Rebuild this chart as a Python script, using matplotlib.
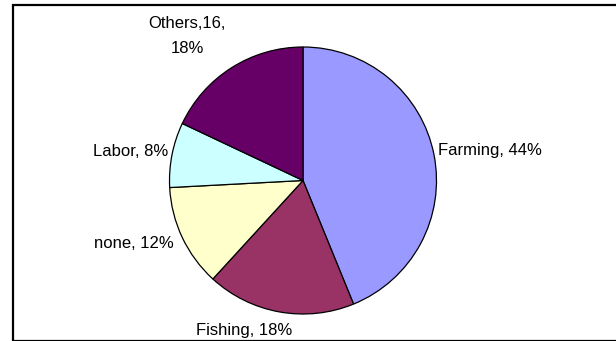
import matplotlib
matplotlib.use("Agg")
import matplotlib.pyplot as plt
from matplotlib.patches import Rectangle

# Occupation counts of respondents
categories = ["Farming", "Fishing", "none", "Labor", "Others"]
counts = [39, 16, 11, 7, 16]
percent_labels = ["44%", "18%", "12%", "8%", "18%"]
colors = ["#9999FF", "#993366", "#FFFFCC", "#CCFFFF", "#660066"]

plt.rcParams["font.family"] = ["Liberation Sans", "DejaVu Sans"]

W, H = 616, 341
fig = plt.figure(figsize=(W / 100, H / 100), dpi=100)
ax = fig.add_axes([0, 0, 1, 1])

ax.pie(counts, colors=colors, startangle=90, counterclock=False,
       center=(303, H - 180.5), radius=133.5,
       wedgeprops=dict(edgecolor="black", linewidth=0.9))
ax.set_xlim(0, W)
ax.set_ylim(0, H)
ax.set_aspect("equal")
ax.axis("off")

fs = 12
ax.text(438, H - 151, f"{categories[0]}, {percent_labels[0]}", fontsize=fs,
        ha="left", va="center")
ax.text(244, H - 330, f"{categories[1]}, {percent_labels[1]}", fontsize=fs,
        ha="center", va="center")
ax.text(174, H - 243, f"{categories[2]}, {percent_labels[2]}", fontsize=fs,
        ha="right", va="center")
ax.text(168, H - 151, f"{categories[3]}, {percent_labels[3]}", fontsize=fs,
        ha="right", va="center")
ax.text(187, H - 36, f"{categories[4]},{counts[4]},\n{percent_labels[4]}",
        fontsize=fs, ha="center", va="center", multialignment="center",
        linespacing=1.8)

# chart-area frame
fig.patches.append(Rectangle((12.5 / W, 0.5 / H), (W + 10) / W, (H - 5) / H,
                             transform=fig.transFigure, fill=False,
                             edgecolor="black", linewidth=1.6))

fig.savefig("out.png", dpi=100)
